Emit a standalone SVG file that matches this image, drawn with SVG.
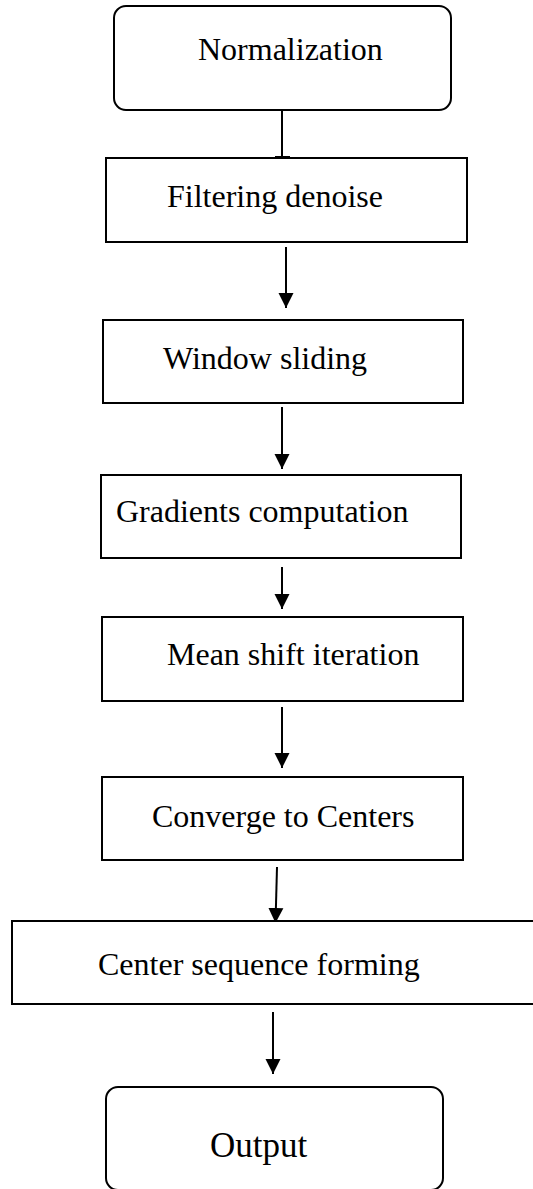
<svg xmlns="http://www.w3.org/2000/svg" width="533" height="1189" viewBox="0 0 533 1189">
  <style>
    .box { fill: #ffffff; stroke: #000000; stroke-width: 2; }
    .lbl { font-family: "Liberation Serif", "Times New Roman", serif; font-size: 32px; fill: #000000; }
    .big { font-size: 35px; }
    .conn { stroke: #000000; stroke-width: 2; fill: none; }
  </style>
  <defs>
    <marker id="arrow" markerUnits="userSpaceOnUse" markerWidth="16" markerHeight="16" viewBox="0 0 16 16" refX="15" refY="8" orient="auto">
      <path d="M0,0.5 L15,8 L0,15.5 Z" fill="#000000"/>
    </marker>
  </defs>
  <rect width="533" height="1189" fill="#ffffff"/>

  <g id="connectors">
    <line class="conn" x1="282" y1="110" x2="282" y2="157"/>
    <line x1="275" y1="157.5" x2="290" y2="157.5" stroke="#000000" stroke-width="3"/>
    <line class="conn" x1="286" y1="247" x2="286" y2="308" marker-end="url(#arrow)"/>
    <line class="conn" x1="282" y1="407" x2="282" y2="469" marker-end="url(#arrow)"/>
    <line class="conn" x1="282" y1="567" x2="282" y2="609" marker-end="url(#arrow)"/>
    <line class="conn" x1="282" y1="707" x2="282" y2="768" marker-end="url(#arrow)"/>
    <line class="conn" x1="277" y1="867" x2="275.5" y2="923" marker-end="url(#arrow)"/>
    <line class="conn" x1="273" y1="1012" x2="273" y2="1074" marker-end="url(#arrow)"/>
  </g>

  <g id="normalization">
    <rect class="box" x="114" y="6" width="337" height="104" rx="12" ry="12"/>
    <text class="lbl" x="198" y="60">Normalization</text>
  </g>
  <g id="filtering-denoise">
    <rect class="box" x="106" y="158" width="361" height="84"/>
    <text class="lbl" x="167" y="207">Filtering denoise</text>
  </g>
  <g id="window-sliding">
    <rect class="box" x="103" y="320" width="360" height="83"/>
    <text class="lbl" x="163" y="369">Window sliding</text>
  </g>
  <g id="gradients-computation">
    <rect class="box" x="101" y="475" width="360" height="83"/>
    <text class="lbl" x="116" y="522">Gradients computation</text>
  </g>
  <g id="mean-shift-iteration">
    <rect class="box" x="102" y="617" width="361" height="84"/>
    <text class="lbl" x="167" y="665">Mean shift iteration</text>
  </g>
  <g id="converge-to-centers">
    <rect class="box" x="102" y="777" width="361" height="83"/>
    <text class="lbl" x="152" y="827">Converge to Centers</text>
  </g>
  <g id="center-sequence-forming">
    <rect class="box" x="12" y="921" width="524" height="83"/>
    <text class="lbl" x="98" y="975">Center sequence forming</text>
  </g>
  <g id="output">
    <rect class="box" x="106" y="1087" width="337" height="103" rx="12" ry="12"/>
    <text class="lbl big" x="210" y="1157">Output</text>
  </g>
</svg>
